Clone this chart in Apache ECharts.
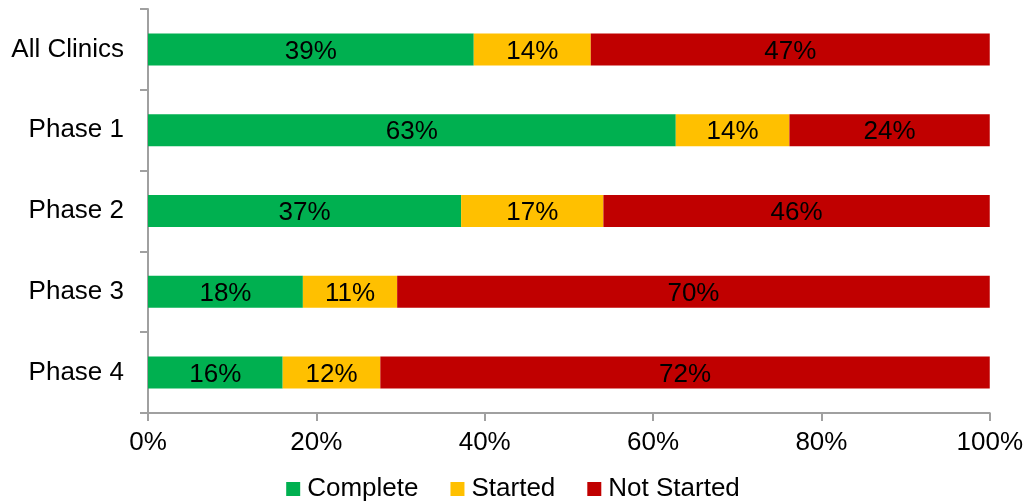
<!DOCTYPE html>
<html>
<head>
<meta charset="utf-8">
<script src="https://cdn.jsdelivr.net/npm/echarts@6/dist/echarts.min.js"></script>
<style>
  html, body { margin: 0; padding: 0; background: #fff; }
  #chart { width: 1026px; height: 504px; }
</style>
</head>
<body>
<div id="chart"></div>
<script>
  // data (percent of clinics)
  var categories = ['All Clinics', 'Phase 1', 'Phase 2', 'Phase 3', 'Phase 4']
  var complete = [38.7, 62.7, 37.2, 18.4, 16.0]
  var started = [13.9, 13.5, 16.9, 11.2, 11.6]
  var notStarted = [47.4, 23.8, 45.9, 70.4, 72.4]
  var xTicks = [0, 20, 40, 60, 80, 100]

  var font = 'Arial, "Liberation Sans", sans-serif'

  function makeSeries (name, data, color) {
    return {
      name: name,
      type: 'bar',
      stack: 'total',
      barWidth: 32,
      data: data,
      itemStyle: { color: color },
      label: {
        show: true,
        position: 'inside',
        offset: [0, 2],
        color: '#000',
        fontSize: 26,
        fontFamily: font,
        formatter: function (p) { return Math.round(p.value) + '%' }
      }
    }
  }

  var myChart = echarts.init(document.getElementById('chart'))
  var option = {
    animation: false,
    textStyle: { fontFamily: font },
    grid: { left: 148, right: 36, top: 9, bottom: 91 },
    legend: {
      bottom: -3,
      left: 'center',
      itemWidth: 14,
      itemHeight: 14,
      itemGap: 32,
      icon: 'rect',
      textStyle: { fontSize: 26, color: '#000', fontFamily: font, padding: [0, 0, 0, 2] },
      data: ['Complete', 'Started', 'Not Started']
    },
    xAxis: {
      type: 'value',
      min: xTicks[0],
      max: xTicks[xTicks.length - 1],
      interval: 20,
      splitLine: { show: false },
      axisLine: { show: true, lineStyle: { color: '#A0A0A0', width: 2 } },
      axisTick: { show: true, length: 8, lineStyle: { color: '#A0A0A0', width: 2 } },
      axisLabel: { fontSize: 26, color: '#000', margin: 17, formatter: '{value}%' }
    },
    yAxis: {
      type: 'category',
      inverse: true,
      data: categories,
      axisLine: { show: true, lineStyle: { color: '#A0A0A0', width: 2 } },
      axisTick: { show: true, length: 8, lineStyle: { color: '#A0A0A0', width: 2 } },
      axisLabel: { fontSize: 26, color: '#000', margin: 24, padding: [3, 0, 0, 0] }
    },
    series: [
      makeSeries('Complete', complete, '#00B050'),
      makeSeries('Started', started, '#FFC000'),
      makeSeries('Not Started', notStarted, '#C00000')
    ]
  }
  myChart.setOption(option)
</script>
</body>
</html>
